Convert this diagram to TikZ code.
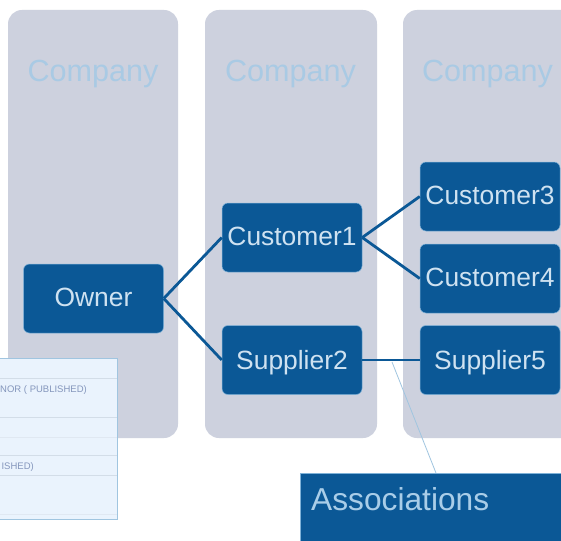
\documentclass[tikz,border=0pt]{standalone}
\usepackage{fontspec}
\setmainfont{Liberation Sans}
\definecolor{colfill}{HTML}{CDD1DE}
\definecolor{navy}{HTML}{0B5896}
\definecolor{lightedge}{HTML}{7FB2D8}
\definecolor{nodetext}{HTML}{CFE2F1}
\definecolor{comptext}{HTML}{A9CAE4}
\definecolor{assoctext}{HTML}{A9CDE8}
\definecolor{panelfill}{HTML}{EAF3FD}
\definecolor{paneledge}{HTML}{A0C5E0}
\definecolor{panelrow}{HTML}{D3DDE8}
\definecolor{panelrowfaint}{HTML}{E0E8F2}
\definecolor{paneltext}{HTML}{8496BC}
\tikzset{
  x=1pt,y=-1pt,
  column/.style={fill=colfill,draw=none,rounded corners=14pt},
  comp/.style={text=comptext,font=\fontsize{30.6}{32}\selectfont,inner sep=0pt,anchor=base},
  entity/.style={fill=navy,draw=lightedge,line width=0.5pt,rounded corners=6pt,text=nodetext,
    font=\fontsize{26.4}{28}\selectfont,minimum width=140pt,minimum height=69pt,inner sep=0pt,
    text height=18pt,text depth=2pt},
  lowtext/.style={text height=19pt,text depth=1pt},
  link/.style={draw=navy,line width=2.8pt},
  callout/.style={draw=paneledge,line width=0.8pt},
  paneltxt/.style={text=paneltext,font=\fontsize{9.5}{11}\selectfont,inner sep=0pt,anchor=base east},
}
\begin{document}
\begin{tikzpicture}
\useasboundingbox (0,0) rectangle (561,540);
\clip (0,0) rectangle (561,540);
\fill[white] (0,0) rectangle (561,540);
% company columns
\path[column] (8,10) rectangle (178,438);
\path[column] (205,10) rectangle (377,438);
\path[column] (403,10) rectangle (600,438);
\node[comp] (c1) at (93,82) {Company};
\node[comp] (c2) at (290.5,82) {Company};
\node[comp] (c3) at (487.5,82) {Company};
% entities
\node[entity] (owner) at (93.5,298.5) {Owner};
\node[entity] (cust1) at (292,237.5) {Customer1};
\node[entity,lowtext] (supp2) at (292,360) {Supplier2};
\node[entity] (cust3) at (490,196.5) {Customer3};
\node[entity] (cust4) at (490,278.5) {Customer4};
\node[entity,lowtext] (supp5) at (490,360) {Supplier5};
% connectors
\draw[link] (owner.east) -- (cust1.west);
\draw[link] (owner.east) -- (supp2.west);
\draw[link] (cust1.east) -- (cust3.west);
\draw[link] (cust1.east) -- (cust4.west);
\draw[link] (supp2.east) -- (supp5.west);
% panel
\path[fill=panelfill,draw=paneledge,line width=1pt] (-10,358) rectangle (117,519);
\foreach \yy in {378,417,455,475}
  \draw[panelrow,line width=0.8pt] (-10,\yy) -- (116.5,\yy);
\foreach \yy in {437,514}
  \draw[panelrowfaint,line width=0.8pt] (-10,\yy) -- (116.5,\yy);
\node[paneltxt] (p1) at (87,392) {NOR ( PUBLISHED)};
\node[paneltxt] (p2) at (34,469) {ISHED)};
% associations
\node[fill=navy,draw=lightedge,line width=0.5pt,minimum width=300pt,minimum height=80pt,inner sep=0pt,anchor=north west] (assoc) at (300,473) {};
\node[text=assoctext,font=\fontsize{31.7}{34}\selectfont,inner sep=0pt,anchor=base west] (assoctxt) at (311,510) {Associations};
\coordinate (callstart) at (392,362);
\coordinate (callend) at (436,473);
\draw[callout] (callstart) -- (callend);
\end{tikzpicture}
\end{document}
